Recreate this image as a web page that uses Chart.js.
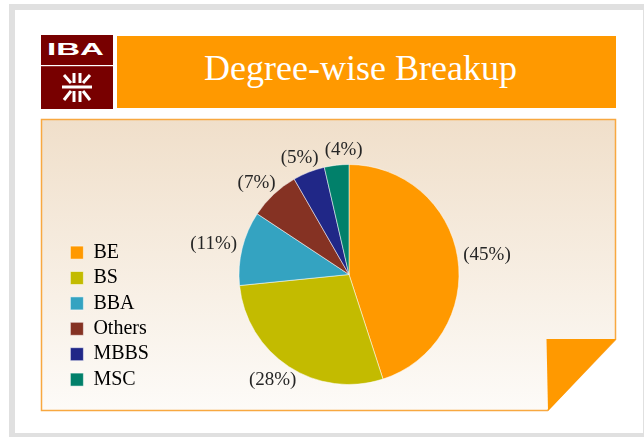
<!DOCTYPE html>
<html>
<head>
<meta charset="utf-8">
<script src="https://cdn.jsdelivr.net/npm/chart.js@4.4.1/dist/chart.umd.min.js"></script>
<style>
  html, body { margin: 0; padding: 0; background: #fff; }
  body { width: 644px; height: 437px; position: relative; overflow: hidden; }
  #frame {
    position: absolute; left: 9px; top: 4px; width: 640px; height: 435px;
    box-sizing: border-box; border: 6px solid #e0e0e0; background: #fff;
  }
  #deco { position: absolute; left: 0; top: 0; }
  #title {
    position: absolute; left: 117px; top: 50px; width: 487px;
    text-align: center; color: #fff;
    font-family: 'Liberation Serif', serif; font-size: 36px; line-height: 36px;
  }
  #chartBox { position: absolute; left: 41px; top: 119px; width: 575px; height: 292px; }
</style>
</head>
<body>
<div id="frame"></div>
<svg id="deco" width="644" height="437">
  <defs>
    <linearGradient id="panelGrad" x1="0" y1="0" x2="0" y2="1">
      <stop offset="0" stop-color="#f0dfca"/>
      <stop offset="1" stop-color="#fdfbf8"/>
    </linearGradient>
  </defs>
  <!-- logo -->
  <rect x="41" y="35" width="72" height="74" fill="#780000"/>
  <rect x="41" y="65" width="72" height="1.2" fill="#fff"/>
  <text x="47" y="55" textLength="57" lengthAdjust="spacingAndGlyphs" fill="#fff"
        font-family="Liberation Sans" font-weight="bold" font-size="17">IBA</text>
  <g stroke="#fff" stroke-width="3" fill="none">
    <line x1="62" y1="87" x2="92" y2="87"/>
    <line x1="74" y1="73" x2="74" y2="83"/>
    <line x1="80" y1="73" x2="80" y2="83"/>
    <line x1="74" y1="91" x2="74" y2="102"/>
    <line x1="80" y1="91" x2="80" y2="102"/>
    <line x1="64" y1="75" x2="71" y2="83"/>
    <line x1="90" y1="75" x2="83" y2="83"/>
    <line x1="64" y1="100" x2="71" y2="91"/>
    <line x1="90" y1="100" x2="83" y2="91"/>
  </g>
  <!-- title bar -->
  <rect x="117" y="36" width="499" height="72" fill="#ff9900"/>
  <!-- panel with folded corner -->
  <polygon points="41.5,119.5 615.5,119.5 615.5,339.5 547.5,410.5 41.5,410.5"
           fill="url(#panelGrad)" stroke="#f8a840" stroke-width="1.5"/>
  <polygon points="546.5,339 616,339 548,411" fill="#ff9900"/>
</svg>
<div id="title">Degree-wise Breakup</div>
<div id="chartBox"><canvas id="pie"></canvas></div>
<script>
const categories = ['BE', 'BS', 'BBA', 'Others', 'MBBS', 'MSC'];
const shares = [45.0, 28.4, 10.9, 7.4, 4.7, 3.6];
const sliceColors = ['#ff9900', '#c3bb00', '#34a3c1', '#853223', '#202787', '#01806a'];

const serif = 'Liberation Serif';

// draws "(45%)" style labels just outside each slice, nudging apart any that collide
const outsideLabels = {
  id: 'outsideLabels',
  afterDatasetsDraw(chart) {
    const ctx = chart.ctx;
    const meta = chart.getDatasetMeta(0);
    ctx.save();
    ctx.font = `19px "${serif}"`;
    ctx.fillStyle = '#262626';
    ctx.textAlign = 'center';
    ctx.textBaseline = 'middle';
    const boxes = [];
    meta.data.forEach((arc, i) => {
      const text = `(${Math.round(shares[i])}%)`;
      const w = ctx.measureText(text).width;
      const h = 19;
      const mid = (arc.startAngle + arc.endAngle) / 2;
      const r = arc.outerRadius + 6;
      let x = arc.x + Math.cos(mid) * (r + w / 2);
      const y = arc.y + Math.sin(mid) * (r + h / 2);
      const prev = boxes[boxes.length - 1];
      if (prev && Math.abs(prev.x - x) < (prev.w + w) / 2 + 6 && Math.abs(prev.y - y) < h) {
        x = prev.x + (prev.w + w) / 2 + 6;
      }
      boxes.push({ x, y, w });
      ctx.fillText(text, x, y);
    });
    ctx.restore();
  }
};

new Chart(document.getElementById('pie'), {
  type: 'pie',
  data: {
    labels: categories,
    datasets: [{
      data: shares,
      backgroundColor: sliceColors,
      borderColor: 'rgba(255,255,255,0.5)',
      borderWidth: 1
    }]
  },
  options: {
    responsive: true,
    maintainAspectRatio: false,
    animation: false,
    radius: 110,
    layout: { padding: { left: 24, right: 77, top: 35, bottom: 16 } },
    plugins: {
      legend: {
        position: 'left',
        align: 'end',
        labels: {
          boxWidth: 13,
          boxHeight: 13,
          padding: 5.4,
          color: '#000',
          font: { family: serif, size: 20 }
        }
      },
      tooltip: { enabled: false }
    }
  },
  plugins: [outsideLabels]
});
</script>
</body>
</html>
